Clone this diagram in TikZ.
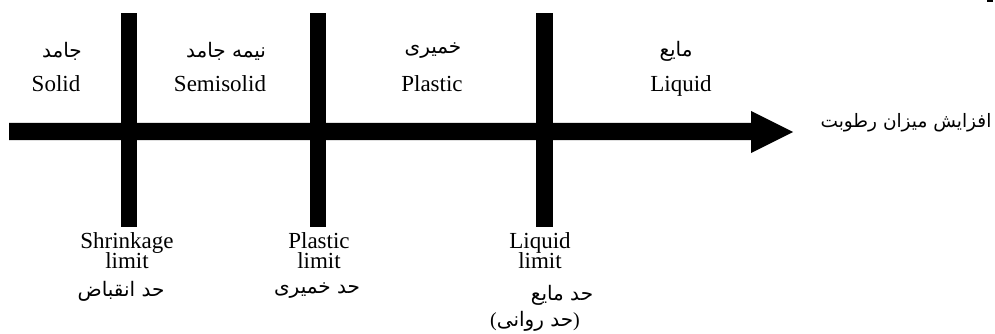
\documentclass[tikz,border=0pt]{standalone}
\usepackage{fontspec}
\setmainfont{Liberation Serif}
\newfontfamily\fafont[Script=Arabic]{DejaVu Sans}
\TeXXeTstate=1
\newcommand\fa[1]{\beginR #1\endR}
\tikzset{
  en/.style={font=\fontsize{23}{20}\selectfont, inner sep=0pt, anchor=base},
  enlim/.style={font=\fontsize{23}{20}\selectfont, inner sep=0pt, align=center,
    anchor=north, execute at begin node={\lineskiplimit=-100pt\relax}},
  fa/.style={font=\fontsize{20}{22}\fafont, inner sep=0pt},
  bar/.style={fill=black, draw=none},
}
\begin{document}
\begin{tikzpicture}[x=1pt,y=-1pt]
\useasboundingbox (0,0) rectangle (995,334);
\fill[white] (0,0) rectangle (995,334);

% moisture axis with its arrow head
\fill[bar] (9,123) -- (751,123) -- (751,111) -- (793,132) -- (751,153)
  -- (751,140) -- (9,140) -- cycle;
\fill[bar] (987,0) rectangle (993,2);

% limit bars
\fill[bar] (121,13) rectangle (137,227);
\fill[bar] (310,13) rectangle (326,227);
\fill[bar] (536,13) rectangle (553,227);

% states
\node[fa] (solidfa) at (62,51) {\fa{جامد}};
\node[en] (solid) at (56,92) {Solid};
\node[fa] (semifa) at (226,51) {\fa{نیمه جامد}};
\node[en] (semi) at (220,92) {Semisolid};
\node[fa] (plasfa) at (433,51) {\fa{خمیری}};
\node[en] (plas) at (432,92) {Plastic};
\node[fa] (liqfa) at (676,51) {\fa{مایع}};
\node[en] (liq) at (681,92) {Liquid};

% axis label
\node[fa, font=\fontsize{18.5}{22}\fafont] (moist) at (906,123) {\fa{افزایش میزان رطوبت}};

% limits
\node[enlim] (sl) at (127,232.5) {Shrinkage\\limit};
\node[fa] (slfa) at (121,291) {\fa{حد انقباض}};
\node[enlim] (pl) at (319,232.5) {Plastic\\limit};
\node[fa] (plfa) at (317,291) {\fa{حد خمیری}};
\node[enlim] (ll) at (540,232.5) {Liquid\\limit};
\node[fa] (llfa) at (562,295) {\fa{حد مایع}};
\node[fa] (llfb) at (535,321) {{\rmfamily(}\fa{حد روانی}{\rmfamily)}};
\end{tikzpicture}
\end{document}
